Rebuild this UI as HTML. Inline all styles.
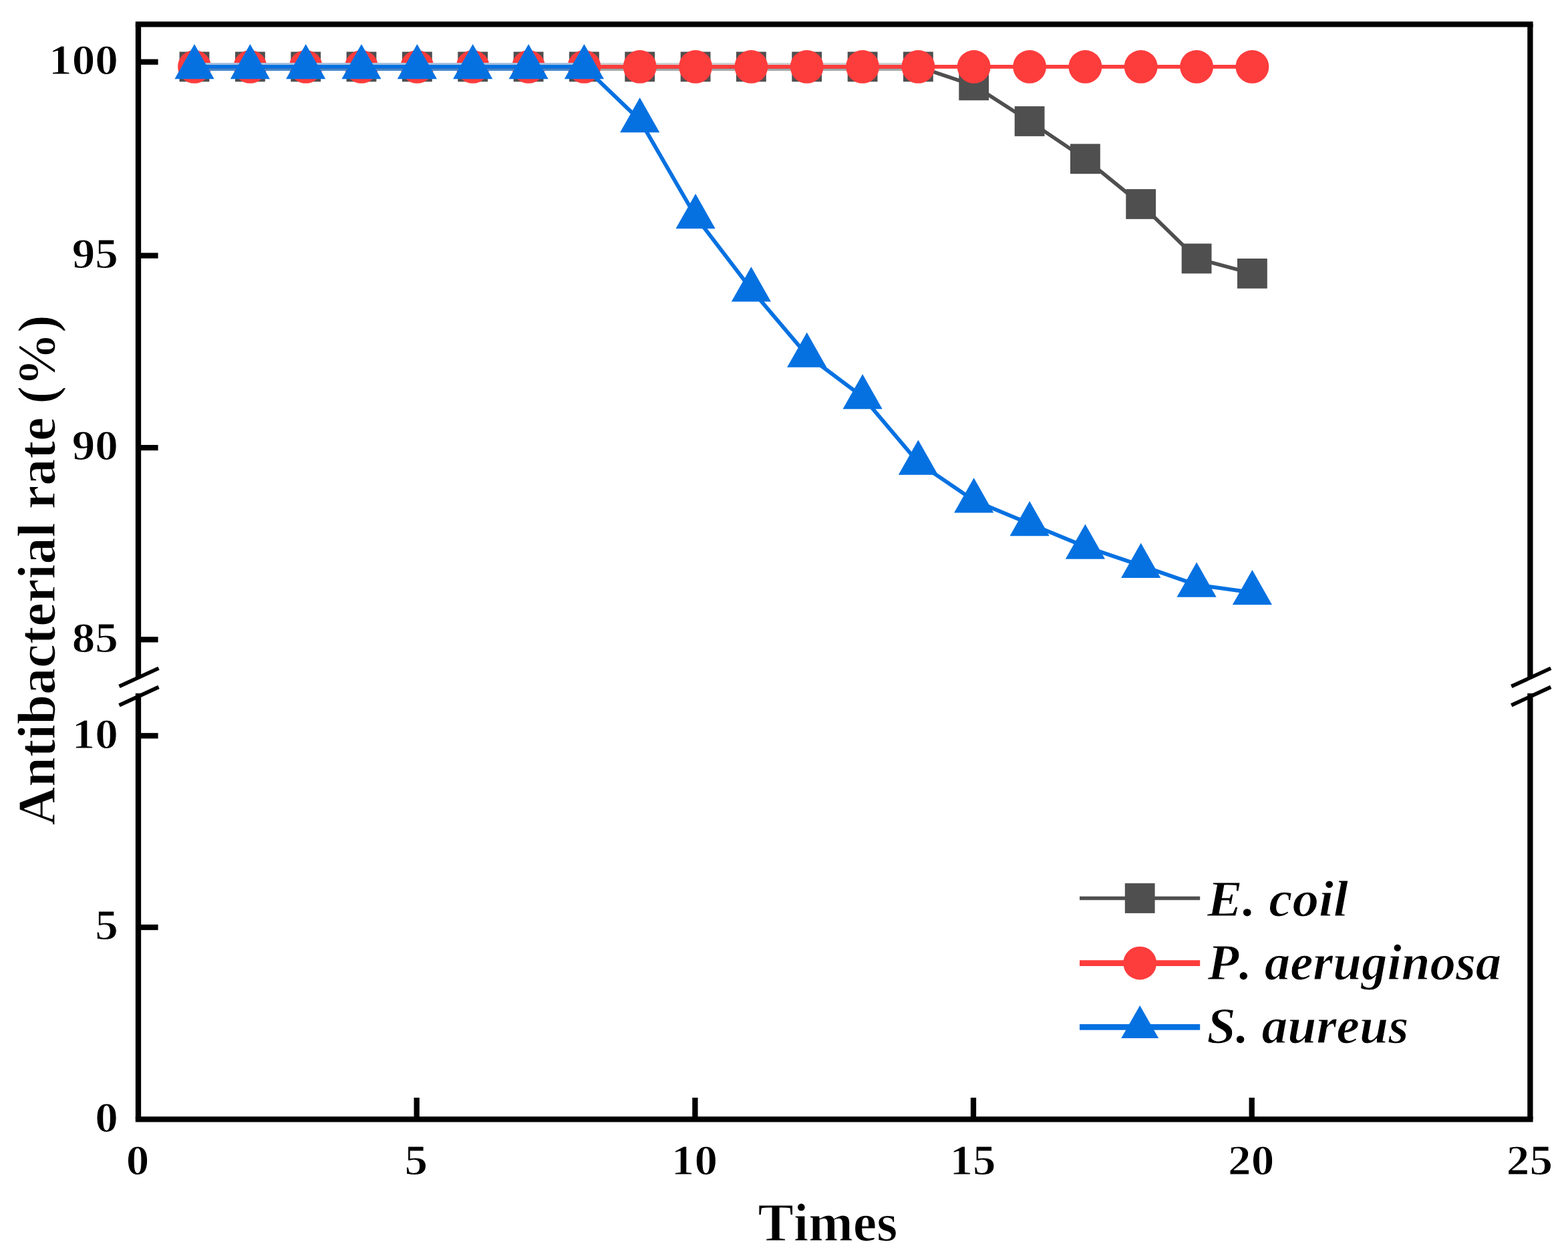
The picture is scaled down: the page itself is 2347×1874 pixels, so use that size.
<!DOCTYPE html>
<html lang="en"><head><meta charset="utf-8"><title>Antibacterial rate vs. Times</title>
<style>
html,body{margin:0;padding:0;background:#fff;}
body{width:2347px;height:1874px;overflow:hidden;}
svg{display:block;}
text{font-family:"Liberation Serif","Times New Roman",serif;fill:#000;font-kerning:none;font-variant-ligatures:none;}
.tick{font-weight:bold;font-size:63.5px;stroke:#fff;stroke-width:1px;stroke-linejoin:round;}
.title{font-weight:bold;font-size:80px;stroke:#fff;stroke-width:1.2px;stroke-linejoin:round;}
.leg{font-weight:bold;font-style:italic;font-size:77px;stroke:#fff;stroke-width:1px;stroke-linejoin:round;}
</style></head><body>
<svg width="2347" height="1874" viewBox="0 0 2347 1874">
<rect x="0" y="0" width="2347" height="1874" fill="#ffffff"/>
<g fill="none" stroke-linejoin="round">
<line x1="291.0" y1="95.5" x2="1374.4" y2="95.5" stroke="#cfd1d1" stroke-width="3"/>
<line x1="291.0" y1="104.3" x2="1374.4" y2="104.3" stroke="#a3a9a9" stroke-width="3.2"/>
<polyline points="291.0,99.9 374.4,99.9 457.7,99.9 541.0,99.9 624.4,99.9 707.7,99.9 791.1,99.9 874.4,99.9 957.7,99.9 1041.1,99.9 1124.4,99.9 1207.7,99.9 1291.1,99.9 1374.4,99.9 1457.7,127.8 1541.1,181.5 1624.4,237.8 1707.7,305.5 1791.1,387.0 1874.4,409.4" stroke="#4f4f4f" stroke-width="5.6"/>
</g>
<g fill="#4f4f4f">
<rect x="268.6" y="77.5" width="44.8" height="44.8"/>
<rect x="352.0" y="77.5" width="44.8" height="44.8"/>
<rect x="435.3" y="77.5" width="44.8" height="44.8"/>
<rect x="518.6" y="77.5" width="44.8" height="44.8"/>
<rect x="602.0" y="77.5" width="44.8" height="44.8"/>
<rect x="685.3" y="77.5" width="44.8" height="44.8"/>
<rect x="768.7" y="77.5" width="44.8" height="44.8"/>
<rect x="852.0" y="77.5" width="44.8" height="44.8"/>
<rect x="935.3" y="77.5" width="44.8" height="44.8"/>
<rect x="1018.7" y="77.5" width="44.8" height="44.8"/>
<rect x="1102.0" y="77.5" width="44.8" height="44.8"/>
<rect x="1185.3" y="77.5" width="44.8" height="44.8"/>
<rect x="1268.7" y="77.5" width="44.8" height="44.8"/>
<rect x="1352.0" y="77.5" width="44.8" height="44.8"/>
<rect x="1435.3" y="105.4" width="44.8" height="44.8"/>
<rect x="1518.7" y="159.1" width="44.8" height="44.8"/>
<rect x="1602.0" y="215.4" width="44.8" height="44.8"/>
<rect x="1685.3" y="283.1" width="44.8" height="44.8"/>
<rect x="1768.7" y="364.6" width="44.8" height="44.8"/>
<rect x="1852.0" y="387.0" width="44.8" height="44.8"/>
</g>
<polyline points="291.0,99.9 374.4,99.9 457.7,99.9 541.0,99.9 624.4,99.9 707.7,99.9 791.1,99.9 874.4,99.9 957.7,99.9 1041.1,99.9 1124.4,99.9 1207.7,99.9 1291.1,99.9 1374.4,99.9 1457.7,99.9 1541.1,99.9 1624.4,99.9 1707.7,99.9 1791.1,99.9 1874.4,99.9" fill="none" stroke="#fd3c3c" stroke-width="5.9"/>
<g fill="#fd3c3c">
<circle cx="291.0" cy="99.9" r="24.9"/>
<circle cx="374.4" cy="99.9" r="24.9"/>
<circle cx="457.7" cy="99.9" r="24.9"/>
<circle cx="541.0" cy="99.9" r="24.9"/>
<circle cx="624.4" cy="99.9" r="24.9"/>
<circle cx="707.7" cy="99.9" r="24.9"/>
<circle cx="791.1" cy="99.9" r="24.9"/>
<circle cx="874.4" cy="99.9" r="24.9"/>
<circle cx="957.7" cy="99.9" r="24.9"/>
<circle cx="1041.1" cy="99.9" r="24.9"/>
<circle cx="1124.4" cy="99.9" r="24.9"/>
<circle cx="1207.7" cy="99.9" r="24.9"/>
<circle cx="1291.1" cy="99.9" r="24.9"/>
<circle cx="1374.4" cy="99.9" r="24.9"/>
<circle cx="1457.7" cy="99.9" r="24.9"/>
<circle cx="1541.1" cy="99.9" r="24.9"/>
<circle cx="1624.4" cy="99.9" r="24.9"/>
<circle cx="1707.7" cy="99.9" r="24.9"/>
<circle cx="1791.1" cy="99.9" r="24.9"/>
<circle cx="1874.4" cy="99.9" r="24.9"/>
</g>
<line x1="291.0" y1="95.5" x2="874.4" y2="95.5" stroke="#a8c0dc" stroke-width="3"/>
<line x1="291.0" y1="104.3" x2="874.4" y2="104.3" stroke="#4488c8" stroke-width="3.2"/>
<polyline points="291.0,99.9 374.4,99.9 457.7,99.9 541.0,99.9 624.4,99.9 707.7,99.9 791.1,99.9 874.4,99.9 957.7,179.8 1041.1,323.9 1124.4,433.1 1207.7,531.4 1291.1,593.9 1374.4,692.4 1457.7,749.1 1541.1,783.9 1624.4,818.3 1707.7,846.6 1791.1,875.4 1874.4,886.8" fill="none" stroke="#0571e1" stroke-width="5.8" stroke-linejoin="round"/>
<g fill="#0571e1">
<polygon points="291.0,66.1 320.6,118.3 261.4,118.3"/>
<polygon points="374.4,66.1 404.0,118.3 344.8,118.3"/>
<polygon points="457.7,66.1 487.3,118.3 428.1,118.3"/>
<polygon points="541.0,66.1 570.6,118.3 511.4,118.3"/>
<polygon points="624.4,66.1 654.0,118.3 594.8,118.3"/>
<polygon points="707.7,66.1 737.3,118.3 678.1,118.3"/>
<polygon points="791.1,66.1 820.7,118.3 761.5,118.3"/>
<polygon points="874.4,66.1 904.0,118.3 844.8,118.3"/>
<polygon points="957.7,146.0 987.3,198.2 928.1,198.2"/>
<polygon points="1041.1,290.1 1070.7,342.3 1011.5,342.3"/>
<polygon points="1124.4,399.3 1154.0,451.5 1094.8,451.5"/>
<polygon points="1207.7,497.6 1237.3,549.8 1178.1,549.8"/>
<polygon points="1291.1,560.1 1320.7,612.3 1261.5,612.3"/>
<polygon points="1374.4,658.6 1404.0,710.8 1344.8,710.8"/>
<polygon points="1457.7,715.3 1487.3,767.5 1428.1,767.5"/>
<polygon points="1541.1,750.1 1570.7,802.3 1511.5,802.3"/>
<polygon points="1624.4,784.5 1654.0,836.7 1594.8,836.7"/>
<polygon points="1707.7,812.8 1737.3,865.0 1678.1,865.0"/>
<polygon points="1791.1,841.6 1820.7,893.8 1761.5,893.8"/>
<polygon points="1874.4,853.0 1904.0,905.2 1844.8,905.2"/>
</g>
<g fill="none" stroke="#000" stroke-width="8.3" stroke-linecap="butt">
<line x1="202.8" y1="36.3" x2="2294.6" y2="36.3"/>
<line x1="202.8" y1="1675.3" x2="2294.6" y2="1675.3"/>
<line x1="207.0" y1="36.3" x2="207.0" y2="1014.0"/>
<line x1="207.0" y1="1037.8" x2="207.0" y2="1675.3"/>
<line x1="2290.4" y1="36.3" x2="2290.4" y2="1014.0"/>
<line x1="2290.4" y1="1037.8" x2="2290.4" y2="1675.3"/>
<line x1="207.0" y1="92.7" x2="236.6" y2="92.7"/>
<line x1="207.0" y1="382.6" x2="236.6" y2="382.6"/>
<line x1="207.0" y1="670.1" x2="236.6" y2="670.1"/>
<line x1="207.0" y1="957.3" x2="236.6" y2="957.3"/>
<line x1="207.0" y1="1101.3" x2="236.6" y2="1101.3"/>
<line x1="207.0" y1="1388.0" x2="236.6" y2="1388.0"/>
<line x1="623.7" y1="1675.3" x2="623.7" y2="1643.0"/>
<line x1="1040.4" y1="1675.3" x2="1040.4" y2="1643.0"/>
<line x1="1457.0" y1="1675.3" x2="1457.0" y2="1643.0"/>
<line x1="1873.7" y1="1675.3" x2="1873.7" y2="1643.0"/>
</g>
<g fill="none" stroke="#000" stroke-width="5.6" stroke-linecap="butt">
<line x1="178.5" y1="1027.4" x2="237.5" y2="1000.2"/>
<line x1="178.5" y1="1055.6" x2="237.5" y2="1028.4"/>
<line x1="2262.3" y1="1027.4" x2="2321.3" y2="1000.2"/>
<line x1="2262.3" y1="1055.6" x2="2321.3" y2="1028.4"/>
</g>
<text class="tick" text-anchor="end" transform="translate(176.9,110.9) scale(1.090,1)">100</text>
<text class="tick" text-anchor="end" transform="translate(176.9,400.8) scale(1.090,1)">95</text>
<text class="tick" text-anchor="end" transform="translate(176.9,688.3) scale(1.090,1)">90</text>
<text class="tick" text-anchor="end" transform="translate(176.9,975.5) scale(1.090,1)">85</text>
<text class="tick" text-anchor="end" transform="translate(176.9,1119.5) scale(1.090,1)">10</text>
<text class="tick" text-anchor="end" transform="translate(176.9,1406.2) scale(1.090,1)">5</text>
<text class="tick" text-anchor="end" transform="translate(176.9,1693.5) scale(1.090,1)">0</text>
<text class="tick" text-anchor="middle" transform="translate(206.0,1758.4) scale(1.090,1)">0</text>
<text class="tick" text-anchor="middle" transform="translate(622.7,1758.4) scale(1.090,1)">5</text>
<text class="tick" text-anchor="middle" transform="translate(1039.4,1758.4) scale(1.090,1)">10</text>
<text class="tick" text-anchor="middle" transform="translate(1456.0,1758.4) scale(1.090,1)">15</text>
<text class="tick" text-anchor="middle" transform="translate(1872.7,1758.4) scale(1.090,1)">20</text>
<text class="tick" text-anchor="middle" transform="translate(2289.4,1758.4) scale(1.090,1)">25</text>
<text class="title" text-anchor="middle" x="1239" y="1856.7">Times</text>
<text class="title" text-anchor="middle" transform="translate(81.7,853.4) rotate(-90)">Antibacterial rate (%)</text>
<line x1="1616" y1="1344.5" x2="1796.2" y2="1344.5" stroke="#4f4f4f" stroke-width="5.3"/>
<rect x="1683.8" y="1322.1" width="44.8" height="44.8" fill="#4f4f4f"/>
<text class="leg" transform="translate(1807.0,1370.5) scale(1.028,1)">E. coil</text>
<line x1="1616" y1="1441.6" x2="1796.2" y2="1441.6" stroke="#fd3c3c" stroke-width="8.9"/>
<circle cx="1706.2" cy="1441.6" r="24.9" fill="#fd3c3c"/>
<text class="leg" transform="translate(1807.5,1466.1) scale(0.998,1)">P. aeruginosa</text>
<line x1="1616" y1="1537.4" x2="1796.2" y2="1537.4" stroke="#0571e1" stroke-width="8.9"/>
<polygon points="1706.2,1505.1 1734.2,1553.9 1678.2,1553.9" fill="#0571e1"/>
<text class="leg" transform="translate(1806.5,1561.3) scale(1.008,1)">S. aureus</text>
</svg>
</body></html>
